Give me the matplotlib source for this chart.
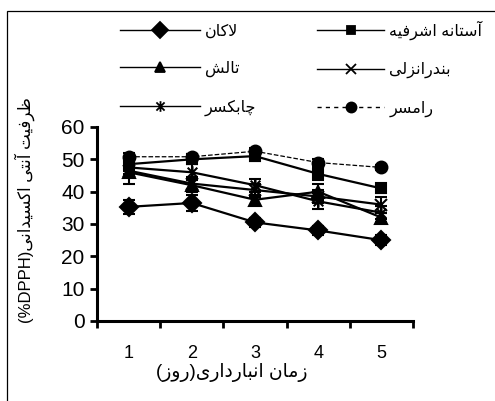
import numpy as np
import matplotlib
matplotlib.use("Agg")
import matplotlib.pyplot as plt
from matplotlib.lines import Line2D
from matplotlib.path import Path
from matplotlib.patches import Rectangle

plt.rcParams['font.family'] = ['Liberation Sans', 'DejaVu Sans']

# Arabic presentation forms: (isolated, final, initial, medial)
FORMS = {
    'ا': ('\ufe8d', '\ufe8e'),
    'آ': ('\ufe81', '\ufe82'),
    'د': ('\ufea9', '\ufeaa'),
    'ر': ('\ufead', '\ufeae'),
    'ز': ('\ufeaf', '\ufeb0'),
    'و': ('\ufeed', '\ufeee'),
    'لا': ('\ufefb', '\ufefc'),
    'ب': ('\ufe8f', '\ufe90', '\ufe91', '\ufe92'),
    'ت': ('\ufe95', '\ufe96', '\ufe97', '\ufe98'),
    'چ': ('\ufb7a', '\ufb7b', '\ufb7c', '\ufb7d'),
    'س': ('\ufeb1', '\ufeb2', '\ufeb3', '\ufeb4'),
    'ش': ('\ufeb5', '\ufeb6', '\ufeb7', '\ufeb8'),
    'ظ': ('\ufec5', '\ufec6', '\ufec7', '\ufec8'),
    'ف': ('\ufed1', '\ufed2', '\ufed3', '\ufed4'),
    'ک': ('\ufb8e', '\ufb8f', '\ufb90', '\ufb91'),
    'ل': ('\ufedd', '\ufede', '\ufedf', '\ufee0'),
    'م': ('\ufee1', '\ufee2', '\ufee3', '\ufee4'),
    'ن': ('\ufee5', '\ufee6', '\ufee7', '\ufee8'),
    'ه': ('\ufee9', '\ufeea', '\ufeeb', '\ufeec'),
    'ی': ('\ufbfc', '\ufbfd', '\ufbfe', '\ufbff'),
}


def shape(text):
    # join letters and reverse to visual order (no bidi library available)
    letters = []
    i = 0
    while i < len(text):
        if text[i] == 'ل' and i + 1 < len(text) and text[i + 1] == 'ا':
            letters.append('لا')
            i += 2
        else:
            letters.append(text[i])
            i += 1
    out = []
    for k, c in enumerate(letters):
        if c not in FORMS:
            out.append(c)
            continue
        f = FORMS[c]
        prev = letters[k - 1] if k > 0 else None
        nxt = letters[k + 1] if k + 1 < len(letters) else None
        jp = prev in FORMS and len(FORMS[prev]) == 4
        jn = len(f) == 4 and nxt in FORMS
        if jp and jn:
            out.append(f[3])
        elif jp:
            out.append(f[1])
        elif jn:
            out.append(f[2])
        else:
            out.append(f[0])
    return ''.join(reversed(out)).translate(str.maketrans('()', ')('))


# data
days = [1, 2, 3, 4, 5]
names = ['لاکان', 'آستانه اشرفیه', 'تالش', 'بندرانزلی', 'چابکسر', 'رامسر']
lakan = [35.3, 36.5, 30.5, 28.0, 25.0]
lakan_err = [2.2, 2.5, 1.3, 1.5, 1.5]
astaneh = [48.5, 50.0, 51.0, 45.5, 41.0]
astaneh_err = [2.0, 1.5, 1.5, 2.0, 1.5]
talesh = [46.0, 42.0, 37.5, 40.0, 32.0]
talesh_err = [3.5, 2.0, 1.5, 2.5, 1.5]
anzali = [46.5, 42.5, 40.5, 38.5, 36.0]
anzali_err = [2.0, 2.0, 2.0, 2.0, 2.5]
chaboksar = [47.5, 46.0, 42.0, 37.0, 33.5]
chaboksar_err = [2.0, 2.5, 2.0, 2.5, 2.0]
ramsar = [50.8, 50.8, 52.5, 49.0, 47.5]
ramsar_err = [1.2, 1.0, 1.0, 1.0, 0.8]

# asterisk marker: x plus vertical bar
star = Path([(-1, -1), (1, 1), (-1, 1), (1, -1), (0, -1.3), (0, 1.3)],
            [Path.MOVETO, Path.LINETO] * 3)

series = [
    (lakan, lakan_err, 'D', 9, '-', 1.6),
    (astaneh, astaneh_err, 's', 7.5, '-', 1.6),
    (talesh, talesh_err, '^', 8.5, '-', 1.6),
    (anzali, anzali_err, 'x', 8, '-', 1.6),
    (chaboksar, chaboksar_err, star, 9, '-', 1.6),
    (ramsar, ramsar_err, 'o', 8.5, '--', 0.9),
]

fig = plt.figure(figsize=(4.95, 4.01), dpi=100)
ax = fig.add_axes([97 / 495, 1 - 321 / 401, 316 / 495, 194 / 401])

handles = []
for (vals, err, mk, ms, ls, lw), name in zip(series, names):
    ax.errorbar(days, vals, yerr=err, color='black', marker=mk, markersize=ms,
                linestyle=ls, linewidth=lw, elinewidth=1.5, capsize=4.5,
                capthick=1.5, markeredgewidth=1.5, clip_on=False)
    handles.append(Line2D([], [], color='black', marker=mk, linestyle='-',
                          linewidth=1.0, markersize=ms * 0.85, markeredgewidth=1.3,
                          dashes=(3, 3) if ls == '--' else (None, None)))

ax.set_xlim(0.5, 5.5)
ax.set_ylim(0, 60)
ax.set_xticks([0.5, 1.5, 2.5, 3.5, 4.5, 5.5])
ax.set_xticklabels([])
ax.set_xticks(days, minor=True)
ax.set_xticklabels([str(d) for d in days], minor=True, fontsize=13)
ax.tick_params(axis='x', which='major', direction='out', length=5, width=2)
ax.tick_params(axis='x', which='minor', length=0, pad=17)
ax.set_yticks(np.arange(0, 61, 10))
ax.tick_params(axis='y', direction='out', length=5, width=2, labelsize=15, pad=4)
for side in ['top', 'right']:
    ax.spines[side].set_visible(False)
for side in ['left', 'bottom']:
    ax.spines[side].set_linewidth(2.2)

fig.text(232 / 495, 1 - 373 / 401, shape('زمان انبارداری(روز)'),
         ha='center', va='center', fontsize=13.5)
fig.text(25 / 495, 1 - 210 / 401, '(%DPPH)' + shape('ظرفیت آنتی اکسیدانی'),
         ha='center', va='center', rotation=90, fontsize=12)

# legend: two columns placed separately
leg_kw = dict(loc='upper left', frameon=False, fontsize=11.5,
              labelspacing=1.4, handletextpad=0.3, borderpad=0.4)
left_idx = [0, 2, 4]
right_idx = [1, 3, 5]
fig.legend([handles[k] for k in left_idx], [shape(names[k]) for k in left_idx],
           bbox_to_anchor=(106 / 495, 1 - 9 / 401), handlelength=5.0, **leg_kw)
fig.legend([handles[k] for k in right_idx], [shape(names[k]) for k in right_idx],
           bbox_to_anchor=(303 / 495, 1 - 6 / 401), handlelength=4.2, **leg_kw)

fig.patches.append(Rectangle((7 / 495, -0.1), 1.2, 1.1 - 11 / 401,
                             transform=fig.transFigure, fill=False,
                             edgecolor='black', linewidth=0.9))

fig.savefig('out.png', dpi=100)
